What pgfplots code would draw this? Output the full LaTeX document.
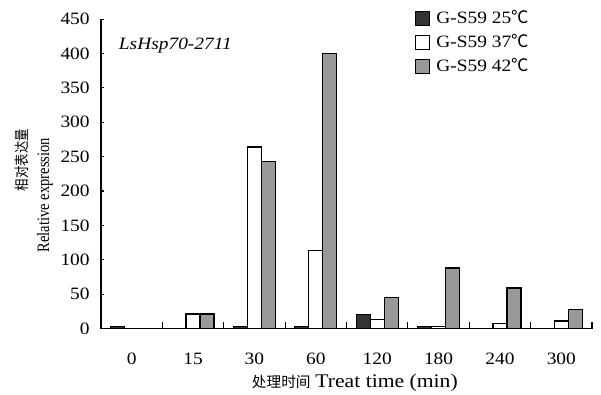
\documentclass[border=0pt]{standalone}
\usepackage{graphicx}
\usepackage{pgfplots}
\pgfplotsset{compat=1.18}
\usepackage{fontspec}
\setmainfont{Liberation Serif}[FakeStretch=1.12]
\newfontfamily\plainserif{Liberation Serif}
\newfontfamily\cjk{Noto Sans CJK SC}
\definecolor{darkbar}{HTML}{333333}
\definecolor{graybar}{HTML}{999999}
\begin{document}
\begin{tikzpicture}
\fontsize{13}{15}\selectfont
\begin{axis}[name=ax, scale only axis, width=368.25pt, height=232.1pt,
  clip=false,
  xmin=-0.5, xmax=7.5, ymin=0, ymax=450,
  axis lines=left, axis line style={-, line width=0.8pt},
  ybar, bar width=0.228,
  xtick={-0.5,0.5,...,7.5}, x tick label as interval,
  xticklabels={0,15,30,60,120,180,240,300},
  ytick={0,50,...,450},
  tick align=inside,
  xtick style={/pgfplots/major tick length=5pt, line width=0.8pt, black},
  ytick style={/pgfplots/major tick length=2.5pt, line width=0.8pt, black},
  /pgf/number format/assume math mode=true,
  yticklabel style={xshift=-4pt},
  xticklabel style={yshift=-14pt},
  every axis plot/.append style={draw=black, line width=0.9pt},
  legend style={draw=none, fill=none, at={(axis description cs:0.6395,1.037)}, anchor=north west,
    row sep=2pt, inner sep=0pt, cells={anchor=west}},
  legend image code/.code={\draw[#1] (0pt,-5.25pt) rectangle (10.5pt,5.25pt); \path (13pt,0pt);},
]
\addplot[fill=darkbar, bar shift=-0.228] coordinates {(0,3) (1,0) (2,3) (3,3) (4,20) (5,3) (6,0) (7,0)};
\addplot[fill=white, bar shift=0] coordinates {(0,0) (1,21) (2,264) (3,113) (4,13.5) (5,3) (6,7) (7,11)};
\addplot[fill=graybar, bar shift=0.228] coordinates {(0,0) (1,21) (2,243) (3,400) (4,45) (5,88) (6,59) (7,28)};
\legend{G-S59 25{\cjk ℃}, G-S59 37{\cjk ℃}, G-S59 42{\cjk ℃}}
\node[anchor=west, font=\itshape, inner sep=0pt] at (axis description cs:0.036,0.915) {LsHsp70-2711};
\node[rotate=90, anchor=center, yshift=59.25pt] at (axis description cs:0,0.544) {\scalebox{1}[1.2]{\cjk\fontsize{9.3}{11}\selectfont 相对表达量}};
\node[rotate=90, anchor=center, yshift=42pt] at (axis description cs:0,0.431) {\scalebox{1}[1.2]{\plainserif\fontsize{10.9}{12}\selectfont Relative expression}};
\node[anchor=center, yshift=-40.5pt] at (axis description cs:0.517,0) {{\cjk\fontsize{11}{13}\selectfont 处理时间} {\fontsize{14.5}{16}\selectfont Treat time (min)}};
\end{axis}
\pgfresetboundingbox
\path[use as bounding box] (ax.south west) ++(-75.75pt,-49.1pt) rectangle ++(450.75pt,295.5pt);
\end{tikzpicture}
\end{document}
